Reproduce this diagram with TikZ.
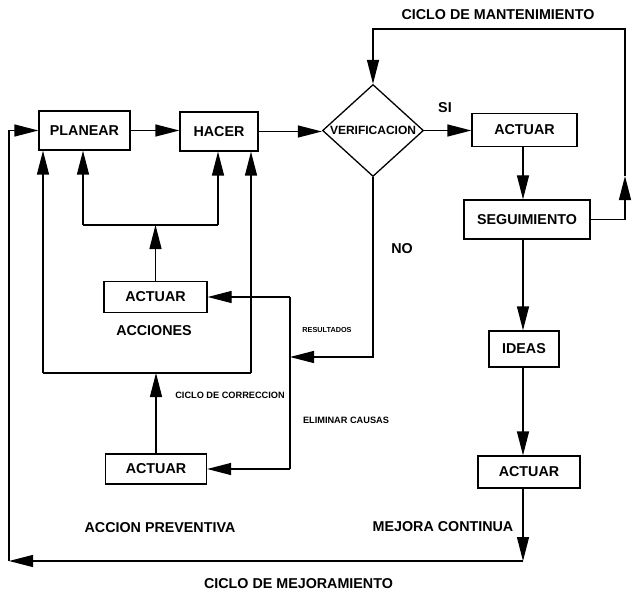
\documentclass[tikz,border=0pt]{standalone}
\usepackage{fontspec}
\setmainfont{Liberation Sans}
\usetikzlibrary{arrows.meta,shapes.geometric}
\tikzset{
  box/.style={draw, line width=1.3pt, inner sep=0pt, font=\bfseries\fontsize{14.3}{15}\selectfont},
  wire/.style={line width=1.3pt},
  arr/.style={wire, -{Triangle[length=24pt,width=12pt]}},
  lbl/.style={font=\bfseries\fontsize{14.3}{15}\selectfont},
  tiny/.style={font=\bfseries\fontsize{9.2}{10}\selectfont},
}
\begin{document}
\begin{tikzpicture}[x=1pt,y=-1pt]
\useasboundingbox (0,0) rectangle (632,591);
% boxes
\node[box, minimum width=91pt, minimum height=39pt] (plan) at (84.5,130.5) {PLANEAR};
\node[box, minimum width=78pt, minimum height=39pt] (hacer) at (219,131.5) {HACER};
\node[draw, line width=1.3pt, shape=diamond, aspect=1.1, inner sep=0pt, minimum width=101pt, minimum height=92pt, font=\bfseries\fontsize{12}{13}\selectfont] (ver) at (373,130.5) {VERIFICACION};
\node[box, minimum width=105pt, minimum height=33pt] (act1) at (524.5,130) {ACTUAR};
\node[box, minimum width=126pt, minimum height=39pt] (seg) at (527,219.5) {SEGUIMIENTO};
\node[box, minimum width=70pt, minimum height=36pt] (ideas) at (524,349) {IDEAS};
\node[box, minimum width=102pt, minimum height=32pt] (act2) at (529,472) {ACTUAR};
\node[box, minimum width=103pt, minimum height=31pt] (actm) at (155.5,297) {ACTUAR};
\node[box, minimum width=101pt, minimum height=30pt] (actb) at (156,469) {ACTUAR};
% labels
\node[lbl] (cm) at (498,15) {CICLO DE MANTENIMIENTO};
\node[lbl] (si) at (445,108) {SI};
\node[lbl] (no) at (402,249) {NO};
\node[lbl] (acc) at (154,331) {ACCIONES};
\node[lbl] (ap) at (160,528) {ACCION PREVENTIVA};
\node[lbl] (mc) at (443,527) {MEJORA CONTINUA};
\node[lbl] (cme) at (298.5,584) {CICLO DE MEJORAMIENTO};
\node[tiny, font=\bfseries\fontsize{7.3}{8}\selectfont] (res) at (327,330) {RESULTADOS};
\node[tiny] (cc) at (230,395) {CICLO DE CORRECCION};
\node[tiny] (el) at (346,420) {ELIMINAR CAUSAS};
% coordinates
\coordinate (col) at (523,0);
\coordinate (br) at (523,561);
\coordinate (bl) at (9,561);
\coordinate (rmid) at (625,176);
\coordinate (tr) at (625,29);
\coordinate (vx) at (290,357);
\coordinate (vtop) at (290,297);
\coordinate (vbot) at (290,469);
\coordinate (rl) at (43,373);
\coordinate (rr) at (251,373);
\coordinate (il) at (83,225);
\coordinate (ir) at (218,225);
% main row
\draw[arr] (plan.east) -- (hacer.west |- plan.east);
\draw[arr] (hacer.east) -- (ver.west |- hacer.east);
\draw[arr] (ver.east) -- (act1.west |- ver.east);
% right column
\draw[arr] (act1.south -| col) -- (seg.north -| col);
\draw[arr] (seg.south -| col) -- (ideas.north -| col);
\draw[arr] (ideas.south -| col) -- (act2.north -| col);
\draw[arr] (act2.south -| col) -- (br);
\draw[arr] (br) -- (bl);
\draw[arr] (bl) |- (plan.west);
% maintenance loop
\draw[arr] (seg.east) -| (rmid);
\draw[arr] (rmid) -- (tr) -| (ver.north);
% NO branch
\draw[arr] (ver.south) |- (vx);
\draw[wire] (vtop) -- (vbot);
\draw[arr] (vtop) -- (actm.east);
\draw[arr] (vbot) -- (actb.east);
% correction loop
\draw[wire] (rl) -- (rr);
\draw[arr] (rl) -- (plan.south -| rl);
\draw[arr] (rr) -- (hacer.south -| rr);
\draw[arr] (actb.north) -- (actb.north |- rl);
% actions loop
\draw[wire] (il) -- (ir);
\draw[arr] (actm.north) -- (actm.north |- il);
\draw[arr] (il) -- (plan.south -| il);
\draw[arr] (ir) -- (hacer.south -| ir);
\end{tikzpicture}
\end{document}
